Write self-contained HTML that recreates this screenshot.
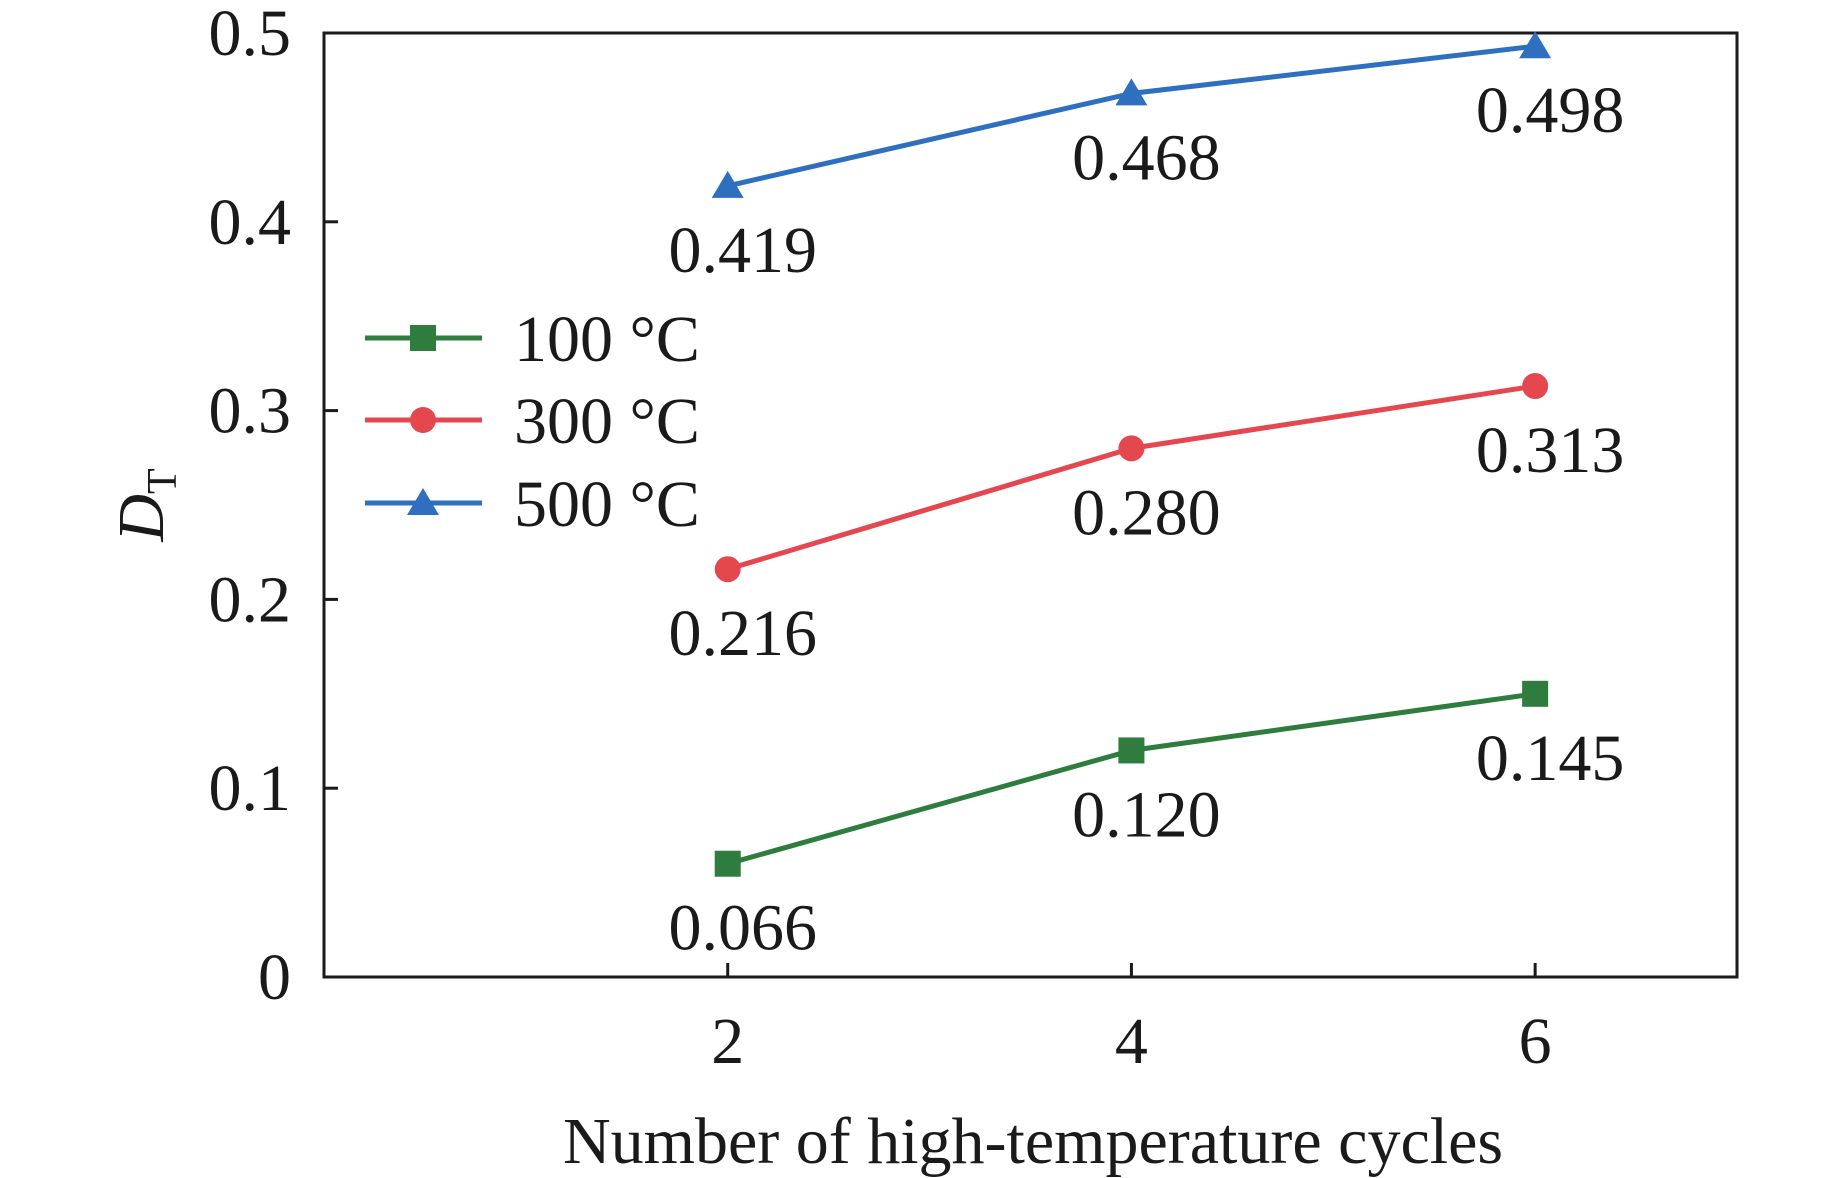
<!DOCTYPE html>
<html><head><meta charset="utf-8"><style>
html,body{margin:0;padding:0;background:#fff;}
svg{display:block;font-family:"Liberation Serif",serif;}
</style></head><body>
<svg id="chart" width="1842" height="1178" viewBox="0 0 1842 1178">
<g id="axes"></g>
<g id="series"></g>
<g id="legend"></g>
</svg>
<script>
const categories=[2,4,6];
const s100=[0.060,0.120,0.150];
const s300=[0.216,0.280,0.313];
const s500=[0.419,0.468,0.493];
const lbl100=["0.066","0.120","0.145"];
const lbl300=["0.216","0.280","0.313"];
const lbl500=["0.419","0.468","0.498"];
const yTicks=[0,0.1,0.2,0.3,0.4,0.5];
const yTickLabels=["0","0.1","0.2","0.3","0.4","0.5"];
const xTickLabels=["2","4","6"];
const seriesNames=["100 °C","300 °C","500 °C"];

const L=324,R=1737,T=33,B=977;
const xs=v=>L+(v-0)/(7-0)*(R-L);
const ys=v=>B-(v-0)/(0.5-0)*(B-T);
const NS="http://www.w3.org/2000/svg";
const FS=66;
function mk(tag,attrs,parent){const e=document.createElementNS(NS,tag);for(const k in attrs)e.setAttribute(k,attrs[k]);parent.appendChild(e);return e;}
const axes=document.getElementById('axes');
const frame=mk('rect',{x:L,y:T,width:R-L,height:B-T,fill:'none',stroke:'#1a1a1a','stroke-width':3},axes);


yTicks.forEach((v,i)=>{
  const t=mk('line',{x1:L,x2:L+14,y1:ys(v),y2:ys(v),stroke:'#1a1a1a','stroke-width':3},axes);
  
  
  const tx=mk('text',{x:L-33,y:ys(v)+22,'text-anchor':'end','font-size':FS,fill:'#1a1a1a'},axes);
  tx.textContent=yTickLabels[i];
  
  
});
categories.forEach((c,i)=>{
  const t=mk('line',{x1:xs(c),x2:xs(c),y1:B,y2:B-14,stroke:'#1a1a1a','stroke-width':3},axes);
  
  
  const tx=mk('text',{x:xs(c),y:1063,'text-anchor':'middle','font-size':FS,fill:'#1a1a1a'},axes);
  tx.textContent=xTickLabels[i];
  
  
});
const xt=mk('text',{x:1033,y:1163,'text-anchor':'middle','font-size':FS,fill:'#1a1a1a'},axes);
xt.textContent='Number of high-temperature cycles';


const yt=mk('text',{transform:'translate(163,505) rotate(-90)','text-anchor':'middle','font-size':FS,fill:'#1a1a1a'},axes);
yt.innerHTML='<tspan font-style="italic">D</tspan><tspan font-size="42" dy="13">T</tspan>';



const colors=['#2e7d3e','#e5474f','#2f6fbf'];
const data=[s100,s300,s500];
const labels=[lbl100,lbl300,lbl500];
const shapes=['square','circle','triangle'];
function marker(shape,x,y,col,parent){
  let m;
  if(shape==='square')m=mk('rect',{x:x-13,y:y-13,width:26,height:26,fill:col},parent);
  else if(shape==='circle')m=mk('circle',{cx:x,cy:y,r:13,fill:col},parent);
  else m=mk('polygon',{points:`${x},${y-15} ${x+16},${y+12} ${x-16},${y+12}`,fill:col},parent);
  return m;
}
const sg=document.getElementById('series');
data.forEach((arr,si)=>{
  const g=mk('g',{},sg);
  
  
  const pts=arr.map((v,i)=>xs(categories[i])+','+ys(v)).join(' ');
  const pl=mk('polyline',{points:pts,fill:'none',stroke:colors[si],'stroke-width':5},g);
  
  
  arr.forEach((v,i)=>{
    const m=marker(shapes[si],xs(categories[i]),ys(v),colors[si],g);
    
    
    const t=mk('text',{x:xs(categories[i])+15,y:ys(v)+86,'text-anchor':'middle','font-size':FS,fill:'#1a1a1a'},g);
    t.textContent=labels[si][i];
    
    
  });
});
const lg=document.getElementById('legend');
const legY=[338,420,503];
seriesNames.forEach((n,i)=>{
  const g=mk('g',{},lg);
  
  
  mk('line',{x1:365,x2:482,y1:legY[i],y2:legY[i],stroke:colors[i],'stroke-width':5},g);
  marker(shapes[i],423,legY[i],colors[i],g);
  const t=mk('text',{x:514,y:legY[i]+23,'font-size':FS,fill:'#1a1a1a'},g);
  t.textContent=n;
});
</script>
</body></html>
